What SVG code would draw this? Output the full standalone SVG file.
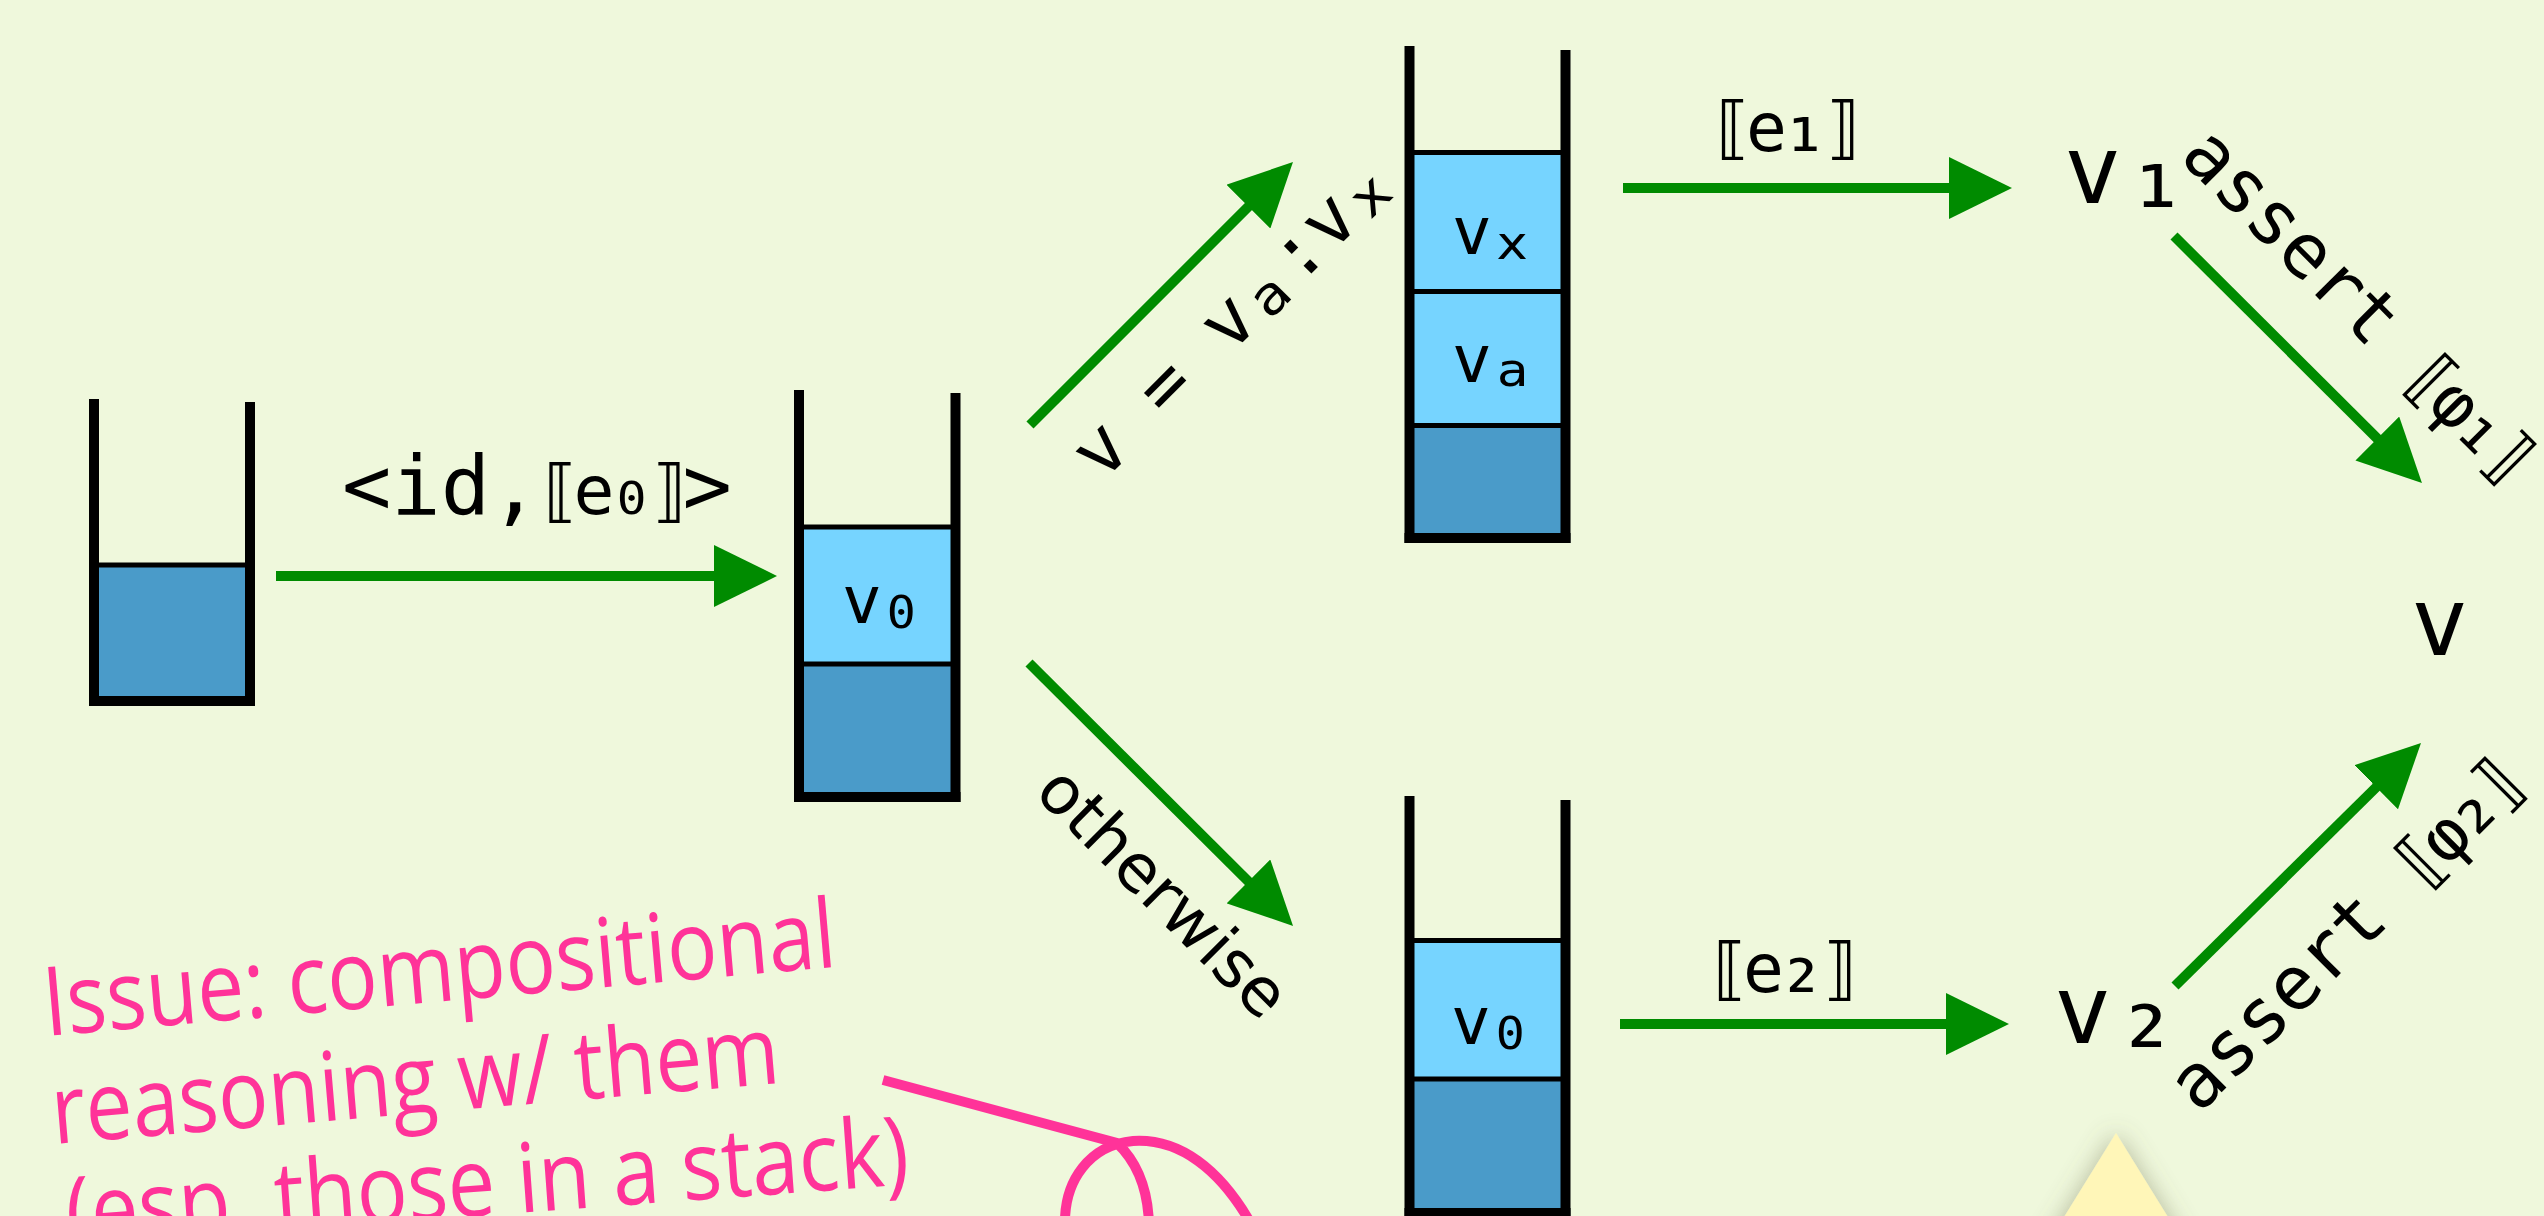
<svg xmlns="http://www.w3.org/2000/svg" width="2544" height="1216" viewBox="0 0 2544 1216">
<style>
.wall{stroke:#000;stroke-width:10;fill:none}
.div{stroke:#000;stroke-width:5}
.light{fill:#76d4ff}
.dark{fill:#4a9bc9}
.bot{fill:#000}
.cell{font-family:"DejaVu Sans Mono",monospace;font-size:66px;fill:#000}
.lbl{font-family:"DejaVu Sans Mono",monospace;font-size:75px;fill:#000}
.node{font-family:"DejaVu Sans Mono",monospace;font-size:95px;fill:#000}
.br{font-size:68px;letter-spacing:-7px}
.conn{stroke:#008b00;stroke-width:10;fill:none;marker-end:url(#ah)}
.pink{font-family:"Open Sans",sans-serif;font-size:96px;fill:#ff3399}
</style>
<defs>
<marker id="ah" markerUnits="userSpaceOnUse" viewBox="0 -31 63 62" markerWidth="63" markerHeight="62" refX="10" refY="0" orient="auto">
<path d="M0,-31 L63,0 L0,31 z" fill="#008b00"/>
</marker>
<filter id="shadow" x="-50%" y="-50%" width="200%" height="200%">
<feDropShadow dx="0" dy="0" stdDeviation="12" flood-color="#6b6b4a" flood-opacity="0.45"/>
</filter>
</defs>
<rect x="0" y="0" width="2544" height="1216" fill="#eff8dc"/>

<g id="stack0">
<rect class="dark" x="99" y="565" width="146" height="131"/>
<line class="div" x1="94" y1="565" x2="250" y2="565"/>
<line class="wall" x1="94" y1="399" x2="94" y2="706"/>
<line class="wall" x1="250" y1="402" x2="250" y2="706"/>
<rect class="bot" x="89" y="696" width="166" height="10"/>
</g>

<g id="stack1">
<rect class="light" x="804" y="527" width="147" height="137"/>
<rect class="dark" x="804" y="664" width="147" height="128"/>
<line class="div" x1="799" y1="527" x2="955" y2="527"/>
<line class="div" x1="799" y1="664" x2="955" y2="664"/>
<line class="wall" x1="799" y1="390" x2="799" y2="802"/>
<line class="wall" x1="955.5" y1="393" x2="955.5" y2="802"/>
<rect class="bot" x="794" y="792" width="166.5" height="10"/>
<text class="cell" x="842" y="623">v<tspan font-size="78" dx="-4" dy="5">₀</tspan></text>
</g>

<g id="stack2">
<rect class="light" x="1414" y="152" width="147" height="139"/>
<rect class="light" x="1414" y="291" width="147" height="134"/>
<rect class="dark" x="1414" y="425" width="147" height="108"/>
<line class="div" x1="1409" y1="152.5" x2="1565" y2="152.5"/>
<line class="div" x1="1409" y1="291.5" x2="1565" y2="291.5"/>
<line class="div" x1="1409" y1="425.5" x2="1565" y2="425.5"/>
<line class="wall" x1="1409.5" y1="46" x2="1409.5" y2="543"/>
<line class="wall" x1="1565.5" y1="50" x2="1565.5" y2="543"/>
<rect class="bot" x="1404.5" y="533" width="166" height="10"/>
<text class="cell" x="1452" y="254">v<tspan font-size="84" dx="-5" dy="5">ₓ</tspan></text>
<text class="cell" x="1452" y="382">v<tspan font-size="84" dx="-5" dy="4">ₐ</tspan></text>
</g>

<g id="stack3">
<rect class="light" x="1414" y="940" width="147" height="139"/>
<rect class="dark" x="1414" y="1079" width="147" height="130"/>
<line class="div" x1="1409" y1="940.5" x2="1565" y2="940.5"/>
<line class="div" x1="1409" y1="1079" x2="1565" y2="1079"/>
<line class="wall" x1="1409.5" y1="796" x2="1409.5" y2="1218"/>
<line class="wall" x1="1565.5" y1="800" x2="1565.5" y2="1218"/>
<rect class="bot" x="1404.5" y="1208" width="166" height="10"/>
<text class="cell" x="1451" y="1044">v<tspan font-size="78" dx="-4" dy="5">₀</tspan></text>
</g>

<g id="node-v1"><text class="node" x="2064" y="203">v<tspan font-size="105" dx="4" dy="4">₁</tspan></text></g>
<g id="node-v2"><text class="node" x="2054" y="1043">v<tspan font-size="105" dx="4" dy="4">₂</tspan></text></g>
<g id="node-v"><text class="node" x="2411" y="655">v</text></g>

<g id="connectors">
<line class="conn" x1="276" y1="576" x2="724" y2="576"/>
<line class="conn" x1="1030" y1="425" x2="1255.5" y2="199.5"/>
<line class="conn" x1="1029" y1="663" x2="1255.5" y2="888.5"/>
<line class="conn" x1="1623" y1="188" x2="1959" y2="188"/>
<line class="conn" x1="1620" y1="1024" x2="1956" y2="1024"/>
<line class="conn" x1="2174" y1="236" x2="2384.4" y2="445.6"/>
<line class="conn" x1="2175" y1="986" x2="2383.3" y2="780.2"/>
<text class="lbl" x="342" y="514"><tspan font-size="82">&lt;id,</tspan><tspan class="br">⟦e<tspan font-size="80">₀</tspan>⟧</tspan><tspan font-size="82">&gt;</tspan></text>
<text class="lbl" transform="translate(1102,483) rotate(-45)">v = v<tspan font-size="94" dx="-4" dy="4">ₐ</tspan><tspan dy="-4">:v</tspan><tspan font-size="94" dx="-4" dy="4">ₓ</tspan></text>
<text transform="translate(1033,794) rotate(45)" font-family="DejaVu Sans, sans-serif" font-size="66" fill="#000">otherwise</text>
<text class="lbl" x="1712" y="151"><tspan class="br">⟦e<tspan font-size="82">₁</tspan>⟧</tspan></text>
<text class="lbl" x="1709" y="992"><tspan class="br">⟦e<tspan font-size="82">₂</tspan>⟧</tspan></text>
<text class="lbl" transform="translate(2178,158) rotate(45)">assert <tspan class="br">⟦φ<tspan font-size="80">₁</tspan>⟧</tspan></text>
<text class="lbl" transform="translate(2199,1115) rotate(-45)">assert <tspan class="br">⟦φ<tspan font-size="80">₂</tspan>⟧</tspan></text>
</g>

<g id="note">
<text class="pink" transform="translate(46,1036) rotate(-5)" textLength="795" lengthAdjust="spacingAndGlyphs">Issue: compositional</text>
<text class="pink" transform="translate(54,1144) rotate(-4.8)" textLength="730" lengthAdjust="spacingAndGlyphs">reasoning w/ them</text>
<text class="pink" transform="translate(68,1246) rotate(-4.2)" textLength="845" lengthAdjust="spacingAndGlyphs">(esp. those in a stack)</text>
<path d="M883,1080 L1117,1143 C1135,1160 1148,1185 1149,1225 C1150,1290 1066,1290 1065,1225 C1064,1180 1090,1145 1133,1141 C1180,1138 1220,1170 1250,1222" stroke="#ff3399" stroke-width="10" fill="none"/>
</g>

<g id="callout">
<polygon points="2116,1133 2030,1272 2202,1272" fill="#fff6b8" filter="url(#shadow)"/>
</g>
</svg>
